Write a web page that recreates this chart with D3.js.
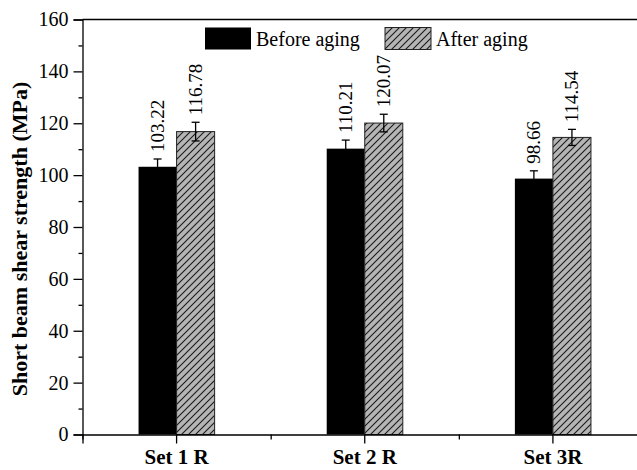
<!DOCTYPE html>
<html>
<head>
<meta charset="utf-8">
<script src="https://cdn.jsdelivr.net/npm/d3@7"></script>
<style>
  body { margin: 0; background: #fff; }
</style>
</head>
<body>
<svg id="chart" width="637" height="470"></svg>
<script>
// data
var categories = ["Set 1 R", "Set 2 R", "Set 3R"];
var seriesNames = ["Before aging", "After aging"];
var beforeValues = [103.22, 110.21, 98.66];
var afterValues = [116.78, 120.07, 114.54];
var beforeErrors = [3.0, 3.3, 3.0];
var afterErrors = [3.6, 3.4, 3.1];
var yTicks = [0, 20, 40, 60, 80, 100, 120, 140, 160];

var serif = "'Liberation Serif', 'Times New Roman', Times, serif";
var svg = d3.select("#chart").attr("font-family", serif);
var plotLeft = 82.5, plotTop = 19.5, plotBottom = 434.5, plotRight = 647;

var x = d3.scaleBand().domain(categories).range([plotLeft, plotRight])
          .paddingInner(0.5957).paddingOuter(0.5957 / 2);
var xs = d3.scaleBand().domain(seriesNames).range([0, x.bandwidth()]);
var y = d3.scaleLinear().domain([0, 160]).range([plotBottom, plotTop]);

// hatch pattern for "After aging"
var defs = svg.append("defs");
var pat = defs.append("pattern")
    .attr("id", "hatch")
    .attr("patternUnits", "userSpaceOnUse")
    .attr("width", 7).attr("height", 7);
pat.append("rect").attr("width", 7).attr("height", 7).attr("fill", "#b5b5b5");
pat.append("path")
    .attr("d", "M-1,8 L8,-1 M-2,2 L2,-2 M5,9 L9,5")
    .attr("stroke", "#1a1a1a").attr("stroke-width", 1.1);

var fills = { "Before aging": "#000", "After aging": "url(#hatch)" };

var rows = [];
categories.forEach(function(c, i) {
  rows.push({ cat: c, name: "Before aging", value: beforeValues[i], err: beforeErrors[i] });
  rows.push({ cat: c, name: "After aging", value: afterValues[i], err: afterErrors[i] });
});

// bars
svg.selectAll("rect.bar").data(rows).enter().append("rect")
    .attr("class", "bar")
    .attr("x", function(d) { return x(d.cat) + xs(d.name); })
    .attr("y", function(d) { return y(d.value); })
    .attr("width", xs.bandwidth())
    .attr("height", function(d) { return y(0) - y(d.value); })
    .attr("fill", function(d) { return fills[d.name]; })
    .attr("stroke", function(d) { return d.name == "Before aging" ? "none" : "#222"; })
    .attr("stroke-width", 1);

// error bars
var eb = svg.selectAll("g.err").data(rows).enter().append("g")
    .attr("class", "err")
    .attr("transform", function(d) {
      return "translate(" + (x(d.cat) + xs(d.name) + xs.bandwidth() / 2) + ",0)";
    })
    .attr("stroke", "#000").attr("stroke-width", 1.3);
eb.append("line")
    .attr("y1", function(d) { return y(d.value + d.err); })
    .attr("y2", function(d) { return y(d.value - d.err); });
eb.append("line").attr("x1", -4).attr("x2", 4)
    .attr("y1", function(d) { return y(d.value + d.err); })
    .attr("y2", function(d) { return y(d.value + d.err); });
eb.append("line").attr("x1", -4).attr("x2", 4)
    .attr("y1", function(d) { return y(d.value - d.err); })
    .attr("y2", function(d) { return y(d.value - d.err); });

// value labels
svg.selectAll("text.val").data(rows).enter().append("text")
    .attr("class", "val")
    .attr("transform", function(d) {
      var cx = x(d.cat) + xs(d.name) + xs.bandwidth() / 2;
      return "translate(" + (cx + 6.5) + "," + (y(d.value + d.err) - 7) + ") rotate(-90)";
    })
    .attr("font-family", serif)
    .attr("font-size", 19)
    .text(function(d) { return d.value.toFixed(2); });

// y axis
var yAxis = svg.append("g").attr("transform", "translate(" + plotLeft + ",0)")
    .call(d3.axisLeft(y).tickValues(yTicks).tickSize(9).tickPadding(5));
yAxis.attr("font-family", serif).attr("font-size", 20);
yAxis.selectAll("text").attr("fill", "#000");
svg.append("g").attr("transform", "translate(" + plotLeft + ",0)")
    .call(d3.axisLeft(y).tickValues(d3.range(10, 160, 20)).tickSize(4).tickFormat(""))
    .select(".domain").remove();

// x axis
var xAxis = svg.append("g").attr("transform", "translate(0," + plotBottom + ")")
    .call(d3.axisBottom(x).tickSize(9).tickPadding(6));
xAxis.attr("font-family", serif).attr("font-size", 21).attr("font-weight", "bold");
xAxis.selectAll("text").attr("fill", "#000").attr("dy", "0.7em");
var xMinor = d3.scaleLinear().domain([0, categories.length]).range([plotLeft, plotRight]);
svg.append("g").attr("transform", "translate(0," + plotBottom + ")")
    .call(d3.axisBottom(xMinor).tickValues([0, 1, 2, 3]).tickSize(5).tickFormat(""))
    .select(".domain").remove();

svg.selectAll(".domain").attr("stroke-width", 1.3);
svg.selectAll(".tick line").attr("stroke-width", 1.3);

// top frame line
svg.append("line").attr("x1", plotLeft).attr("x2", plotRight)
    .attr("y1", plotTop).attr("y2", plotTop)
    .attr("stroke", "#000").attr("stroke-width", 1.3);

// y title
svg.append("text")
    .attr("transform", "translate(27,239) rotate(-90)")
    .attr("text-anchor", "middle")
    .attr("font-family", serif)
    .attr("font-size", 22).attr("font-weight", "bold")
    .text("Short beam shear strength (MPa)");

// legend
var legend = svg.append("g").attr("font-family", serif);
var legX = [205, 385];
seriesNames.forEach(function(s, i) {
  legend.append("rect").attr("x", legX[i]).attr("y", 27.5)
      .attr("width", 46).attr("height", 22)
      .attr("fill", fills[s])
      .attr("stroke", i == 0 ? "none" : "#222").attr("stroke-width", 1);
  legend.append("text").attr("x", legX[i] + 51).attr("y", 46)
      .attr("font-size", 20).text(s);
});
</script>
</body>
</html>
